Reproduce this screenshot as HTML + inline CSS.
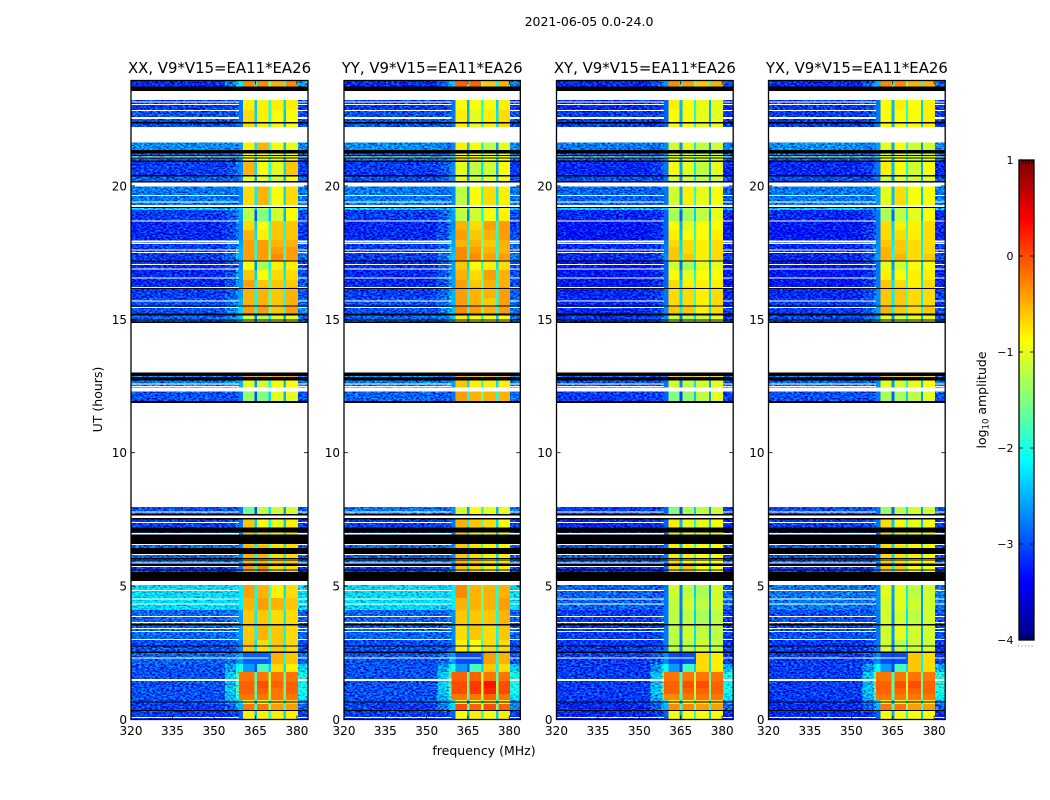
<!DOCTYPE html>
<html lang="en">
<head>
<meta charset="utf-8">
<title>2021-06-05 amplitude waterfall</title>
<style>
html,body{margin:0;padding:0;background:#fff;}
svg{display:block;}
text{font-family:"DejaVu Sans","Liberation Sans",sans-serif;fill:#000;}
</style>
</head>
<body>
<svg id="chart" xmlns="http://www.w3.org/2000/svg" width="1050" height="800" viewBox="0 0 1050 800">
<defs>
<filter id="speckle" filterUnits="objectBoundingBox" x="0" y="0" width="1" height="1" color-interpolation-filters="sRGB">
<feTurbulence type="fractalNoise" baseFrequency="0.36 0.62" numOctaves="2" seed="7" result="n"/>
<feColorMatrix in="n" type="matrix" values="0 0 0 0 0.5  1.5 0 0 0 -0.25  1.3 0 0 0 -0.15  0 0 0 0 1" result="m"/>
<feComposite in="SourceGraphic" in2="m" operator="arithmetic" k1="0" k2="1" k3="1" k4="-0.5" result="c"/>
<feComposite in="c" in2="SourceAlpha" operator="in"/>
</filter>
</defs>
<rect x="0" y="0" width="1050" height="800" fill="#fff"/>
<text x="589" y="26" font-size="12.5" text-anchor="middle">2021-06-05 0.0-24.0</text>
<text x="484" y="755" font-size="12.5" text-anchor="middle">frequency (MHz)</text>
<text x="0" y="0" font-size="12.5" text-anchor="middle" transform="translate(102,399.5) rotate(-90)">UT (hours)</text>
<text x="0" y="0" font-size="12.5" text-anchor="middle" transform="translate(986,400) rotate(-90)">log<tspan font-size="8.5" dy="2.5">10</tspan><tspan dy="-2.5"> amplitude</tspan></text>
<g id="panels"></g>
<g id="colorbar"></g>
</svg>
<script>
const panelNames = ["XX", "YY", "XY", "YX"];
const xTicks = [320, 335, 350, 365, 380];
const yTicks = [0, 5, 10, 15, 20];
const colorbarTicks = [1, 0, -1, -2, -3, -4];
const freqEdges = [320, 354, 358, 359, 360.5, 364.6, 365.6, 369.8, 370.6, 375.2, 376, 380.3, 384];

const hourBands = [
[23.93,23.71],[23.71,22.84],[22.84,22.20],[21.62,21.35],[21.35,21.11],[21.11,21.07],[21.07,20.90],[20.90,20.41],
[20.41,19.97],[19.97,19.17],[19.17,19.09],[19.09,18.68],[18.68,18.35],[18.35,17.97],[17.97,17.71],[17.71,17.45],
[17.45,17.19],[17.19,16.85],[16.85,16.47],[16.47,16.21],[16.21,15.80],[15.80,15.50],[15.50,15.22],[15.22,14.87],
[13.01,12.84],[12.84,12.29],[12.29,11.87],[7.96,7.59],[7.59,7.21],[7.21,6.54],[6.54,5.98],[5.98,5.75],[5.75,5.19],
[5.04,4.55],[4.55,4.10],[4.10,3.54],[3.54,2.98],[2.98,2.53],[2.53,2.08],[2.08,1.78],[1.78,1.45],[1.45,1.18],
[1.18,0.96],[0.96,0.73],[0.73,0.58],[0.58,0.32],[0.32,0]
];

/* log10 amplitude x 10: background, shoulder, band 1, band 2, band 3, band 4 */
const levelsXX = [
[-32,-22,-3,-3,-5,-3],[-31,-28,-8,-8,-8,-8],[-30,-28,-7,-8,-9,-9],[-27,-26,-8,-5,-9,-10],[-29,-27,-9,-9,-10,-10],
[-8,-10,-7,-7,-8,-8],[-29,-26,-9,-9,-10,-10],[-31,-27,-5,-9,-10,-6],[-29,-27,-10,-10,-11,-9],[-28,-27,-7,-5,-9,-7],
[-24,-24,-12,-12,-11,-9],[-31,-26,-12,-15,-11,-9],[-32,-27,-7,-9,-6,-6],[-32,-27,-5,-8,-6,-6],[-31,-26,-4,-4,-5,-5],
[-31,-25,-4,-4,-4,-4],[-31,-25,-4,-4,-3,-4],[-32,-27,-9,-13,-8,-8],[-32,-26,-6,-9,-7,-7],[-32,-26,-4,-6,-6,-6],
[-31,-26,-5,-5,-6,-5],[-30,-25,-5,-5,-6,-5],[-30,-23,-4,-4,-6,-4],[-29,-24,-11,-12,-10,-10],[-27,-27,-4,-4,-4,-4],
[-28,-25,-10,-11,-9,-9],[-30,-28,-14,-15,-10,-10],[-30,-28,-16,-12,-11,-11],[-31,-28,-6,-9,-10,-8],[-30,-27,-6,-7,-8,-7],
[-29,-27,-5,-5,-7,-7],[-28,-26,-5,-5,-6,-6],[-31,-28,-4,-3,-7,-7],[-23,-22,-4,-5,-8,-7],[-23,-22,-5,-4,-5,-6],
[-29,-26,-6,-6,-7,-7],[-29,-26,-6,-5,-6,-7],[-30,-27,-6,-7,-6,-7],[-29,-26,-29,-29,-5,-6],[-30,-20,-26,-18,-7,-8],
[-30,-16,-2,-2,-2,-2],[-30,-17,-1,0,-1,-1],[-30,-16,-1,-1,-2,-1],[-30,-18,-2,-2,-2,-2],[-30,-22,-8,-9,-7,-7],
[-31,-25,-2,-2,-4,-4],[-31,-29,-8,-8,-8,-8]
];
const levelsYY = [
[-32,-24,-1,-1,-6,-5],[-31,-28,-9,-9,-9,-8],[-30,-28,-8,-10,-8,-7],[-27,-27,-8,-9,-12,-10],[-29,-27,-10,-10,-11,-10],
[-9,-10,-8,-8,-9,-9],[-28,-26,-6,-7,-9,-9],[-31,-27,-10,-12,-11,-9],[-30,-27,-10,-11,-10,-9],[-28,-27,-12,-9,-7,-8],
[-24,-24,-11,-11,-10,-9],[-31,-26,-12,-11,-9,-8],[-32,-27,-5,-7,-4,-4],[-32,-26,-4,-6,-5,-4],[-31,-26,-5,-5,-6,-5],
[-31,-25,-3,-4,-5,-5],[-31,-24,-3,-3,-4,-4],[-32,-26,-6,-9,-8,-7],[-32,-26,-5,-7,-4,-5],[-32,-26,-4,-6,-5,-5],
[-31,-25,-4,-5,-5,-4],[-30,-25,-4,-5,-6,-4],[-30,-24,-3,-4,-5,-4],[-29,-24,-8,-9,-9,-9],[-26,-27,-4,-5,-5,-5],
[-28,-26,-6,-8,-8,-8],[-29,-28,-4,-5,-5,-5],[-28,-27,-11,-9,-10,-10],[-31,-28,-5,-6,-7,-9],[-30,-27,-6,-8,-8,-9],
[-29,-27,-6,-7,-8,-8],[-28,-26,-5,-6,-7,-7],[-31,-28,-6,-7,-8,-8],[-23,-22,-3,-5,-5,-5],[-23,-22,-5,-5,-5,-4],
[-29,-27,-6,-6,-6,-5],[-29,-27,-7,-6,-7,-6],[-30,-28,-8,-9,-7,-7],[-30,-26,-30,-30,-4,-5],[-30,-20,-26,-18,-6,-7],
[-30,-16,-1,-1,-2,-2],[-30,-16,0,1,3,0],[-30,-16,0,1,2,0],[-30,-18,-2,-2,-1,-2],[-30,-22,-10,-10,-7,-8],
[-31,-23,0,-1,0,-1],[-31,-29,-9,-8,-9,-8]
];
const levelsXY = [
[-32,-26,-3,-4,-6,-5],[-32,-29,-8,-9,-10,-10],[-31,-29,-9,-9,-10,-10],[-28,-27,-11,-10,-12,-11],[-29,-27,-11,-11,-12,-12],
[-10,-12,-9,-9,-10,-10],[-29,-27,-10,-10,-11,-11],[-32,-28,-9,-10,-12,-10],[-30,-28,-11,-11,-12,-11],[-29,-28,-11,-8,-10,-9],
[-24,-25,-12,-12,-12,-10],[-32,-29,-13,-13,-12,-10],[-33,-29,-9,-10,-9,-9],[-33,-29,-8,-9,-9,-8],[-32,-28,-7,-7,-8,-7],
[-32,-28,-6,-7,-8,-7],[-32,-27,-6,-6,-8,-7],[-33,-29,-11,-13,-10,-10],[-33,-29,-9,-10,-9,-9],[-33,-29,-7,-8,-8,-8],
[-32,-28,-7,-7,-8,-7],[-32,-28,-7,-7,-8,-7],[-32,-27,-6,-6,-8,-7],[-31,-27,-11,-12,-11,-10],[-28,-28,-6,-6,-7,-7],
[-30,-28,-11,-12,-11,-10],[-31,-29,-15,-14,-12,-10],[-31,-29,-15,-13,-12,-11],[-32,-29,-8,-10,-10,-9],[-31,-28,-8,-9,-10,-9],
[-30,-28,-8,-8,-9,-9],[-29,-27,-7,-8,-9,-9],[-32,-29,-7,-6,-9,-9],[-29,-28,-11,-12,-13,-11],[-29,-28,-12,-11,-12,-11],
[-31,-28,-12,-12,-13,-12],[-31,-28,-12,-11,-12,-12],[-31,-28,-12,-12,-11,-12],[-31,-27,-30,-30,-7,-8],[-31,-21,-26,-18,-7,-8],
[-31,-16,-2,-2,-2,-2],[-31,-17,-1,0,0,-1],[-31,-16,-1,-1,-1,-1],[-31,-18,-3,-2,-2,-2],[-31,-23,-8,-9,-7,-7],
[-32,-25,-3,-3,-4,-4],[-32,-29,-9,-9,-9,-9]
];
const levelsYX = [
[-32,-25,-3,-3,-5,-5],[-31,-28,-9,-8,-9,-8],[-31,-28,-9,-9,-9,-8],[-27,-26,-10,-9,-11,-11],[-28,-27,-11,-10,-12,-11],
[-9,-11,-8,-8,-10,-9],[-29,-27,-9,-9,-11,-10],[-32,-28,-8,-9,-11,-9],[-30,-28,-11,-10,-11,-10],[-28,-26,-10,-7,-9,-9],
[-24,-25,-12,-12,-10,-10],[-32,-28,-13,-12,-10,-9],[-33,-28,-7,-8,-8,-7],[-33,-28,-7,-7,-8,-7],[-32,-27,-6,-6,-7,-7],
[-32,-27,-5,-6,-7,-7],[-32,-26,-5,-5,-7,-6],[-33,-28,-10,-11,-9,-9],[-33,-28,-8,-9,-8,-8],[-33,-28,-6,-7,-8,-7],
[-32,-27,-6,-6,-7,-7],[-31,-27,-6,-6,-7,-7],[-31,-26,-5,-6,-7,-6],[-30,-26,-10,-11,-10,-10],[-27,-28,-5,-6,-6,-7],
[-29,-27,-10,-11,-10,-9],[-30,-28,-13,-13,-12,-10],[-30,-28,-14,-12,-11,-11],[-31,-28,-7,-9,-10,-9],[-31,-28,-7,-8,-9,-9],
[-30,-28,-7,-7,-8,-9],[-29,-27,-6,-7,-8,-8],[-31,-28,-6,-6,-9,-9],[-28,-27,-10,-10,-12,-11],[-28,-27,-11,-10,-11,-11],
[-30,-28,-11,-11,-12,-11],[-30,-28,-11,-10,-11,-11],[-31,-28,-11,-12,-11,-11],[-31,-27,-30,-30,-6,-7],[-31,-21,-26,-18,-6,-7],
[-31,-16,-2,-2,-2,-2],[-31,-16,-1,0,0,-1],[-31,-16,-1,-1,-1,-1],[-31,-18,-2,-2,-2,-2],[-31,-23,-8,-9,-7,-8],
[-32,-25,-2,-2,-4,-4],[-32,-29,-9,-9,-9,-9]
];

/* flagged time ranges, hours */
const fullWhiteBands = [[23.56,23.22],[22.20,21.62],[20.12,19.97],[19.28,19.20],[12.44,12.29],[7.64,7.56],[5.19,5.04]];
const lineWhiteBands = [[23.16,23.12],[23.07,23.03],[22.84,22.80],[22.59,22.51],[19.66,19.62],[19.41,19.37],[18.70,18.66],[17.95,17.90],[17.87,17.83],[17.62,17.59],[17.53,17.48],[17.07,17.03],[16.91,16.87],[16.57,16.53],[16.21,16.17],[15.71,15.67],[15.46,15.42],[12.59,12.55],[12.50,12.46],[7.79,7.75],[7.41,7.38],[6.99,6.94],[6.58,6.54],[6.20,6.17],[5.89,5.85],[5.76,5.73],[4.85,4.82],[4.54,4.50],[4.35,4.32],[3.88,3.84],[3.65,3.62],[3.43,3.39],[3.32,3.28],[3.02,2.98],[1.51,1.44],[0.09,0.06]];
const midWhiteBands = [[2.32,2.28]];
const blackBands = [[23.72,23.56],[22.40,22.33],[21.35,21.22],[21.15,21.12],[21.07,21.02],[20.95,20.90],[20.41,20.36],[20.18,20.12],[19.20,19.17],[17.21,17.17],[16.17,16.13],[15.52,15.48],[15.22,15.15],[15.00,14.95],[14.91,14.87],[13.01,12.88],[12.84,12.70],[11.94,11.87],[7.70,7.64],[7.56,7.50],[7.20,7.00],[6.94,6.58],[6.43,6.20],[6.06,6.03],[6.00,5.97],[5.85,5.76],[5.63,5.58],[5.53,5.19],[3.58,3.53],[2.77,2.73],[2.54,2.49],[0.67,0.63],[0.36,0.32]];

const allLevels = [levelsXX, levelsYY, levelsXY, levelsYX];
const SVGNS = "http://www.w3.org/2000/svg";
const panelLeft = [131, 344, 556.5, 768.5];
const panelSpan = [177, 176.3, 176.7, 176.7];
const plotTop = 80.5, plotBottom = 719.5, pxPerHour = 26.68;
const fMin = 320, fMax = 384;
const cbLeft = 1019, cbRight = 1034, cbTop = 160, cbBottom = 640, cbMin = -4, cbMax = 1;

function yScale(h) { return Math.max(plotTop, plotBottom - h * pxPerHour); }
function clamp(v) { return Math.max(0, Math.min(1, v)); }
function jet(level) {
  const n = clamp((level - cbMin) / (cbMax - cbMin));
  const r = Math.round(255 * clamp(1.5 - Math.abs(4 * n - 3)));
  const g = Math.round(255 * clamp(1.5 - Math.abs(4 * n - 2)));
  const b = Math.round(255 * clamp(1.5 - Math.abs(4 * n - 1)));
  return "rgb(" + r + "," + g + "," + b + ")";
}
function make(parent, tag, attrs, txt) {
  const el = document.createElementNS(SVGNS, tag);
  for (const k in attrs) el.setAttribute(k, attrs[k]);
  if (txt !== undefined) el.textContent = txt;
  parent.appendChild(el);
  return el;
}
function columnLevels(row) {
  const bg = row[0], sh = row[1], p1 = row[2], p2 = row[3], p3 = row[4], p4 = row[5];
  const inBlock = sh >= -19 && bg < -25;
  const leadIn = inBlock ? p1 : sh;
  const edge = Math.max(bg, sh - 4);
  return [bg, (bg + sh) / 2 - 1, sh - 1, leadIn, p1, Math.max(bg, (p1 + p2) / 2 - 16), p2,
    Math.max(bg, (p2 + p3) / 2 - 11), p3, Math.max(bg, (p3 + p4) / 2 - 15), p4, edge];
}

const root = document.getElementById("panels");
panelNames.forEach(function (name, pi) {
  const left = panelLeft[pi];
  const panelWidth = panelSpan[pi];
  const xScale = function (f) { return left + (f - fMin) / (fMax - fMin) * panelWidth; };
  const lname = name.toLowerCase();
  const g = make(root, "g", {});
  
  

  const bgGroup = make(g, "g", { filter: "url(#speckle)", "shape-rendering": "crispEdges" });
  
  
  const brightGroup = make(g, "g", { "shape-rendering": "crispEdges" });
  
  

  hourBands.forEach(function (band, ri) {
    const cols = columnLevels(allLevels[pi][ri]);
    cols.forEach(function (tenths, ci) {
      const host = (ci <= 2 || ci === 11) ? bgGroup : brightGroup;
      const y0 = yScale(band[0]), y1 = yScale(band[1]);
      const x0 = xScale(freqEdges[ci]), x1 = xScale(freqEdges[ci + 1]);
      const cell = make(host, "rect", { x: x0, y: y0, width: x1 - x0, height: y1 - y0, fill: jet(tenths / 10) });
      
      
    });
  });

  const masks = make(g, "g", { "shape-rendering": "crispEdges" });
  
  
  function band(hTop, hBot, fFrom, fTo, color) {
    const r = make(masks, "rect", { x: xScale(fFrom), y: yScale(hTop), width: xScale(fTo) - xScale(fFrom), height: Math.max(1, yScale(hBot) - yScale(hTop)), fill: color });
    
    
  }
  fullWhiteBands.forEach(function (b) { band(b[0], b[1], fMin, fMax, "#fff"); });
  lineWhiteBands.forEach(function (b) { band(b[0], b[1], fMin, 359, "#fff"); band(b[0], b[1], 380.3, fMax, "#fff"); });
  midWhiteBands.forEach(function (b) { band(b[0], b[1], fMin, 369.8, "#fff"); band(b[0], b[1], 380.3, fMax, "#fff"); });
  blackBands.forEach(function (b) { band(b[0], b[1], fMin, fMax, "#000"); });

  const frame = make(g, "rect", { x: left, y: plotTop, width: panelWidth, height: plotBottom - plotTop, fill: "none", stroke: "#000", "stroke-width": 1.3 });
  
  

  xTicks.forEach(function (t) {
    const x = xScale(t);
    const a = make(g, "line", { x1: x, x2: x, y1: plotBottom, y2: plotBottom - 4, stroke: "#000", "stroke-width": 0.8 });
    
    
    const b = make(g, "line", { x1: x, x2: x, y1: plotTop, y2: plotTop + 4, stroke: "#000", "stroke-width": 0.8 });
    
    
    const l = make(g, "text", { x: x, y: 735, "font-size": 12, "text-anchor": "middle" }, String(t));
    
    
  });
  yTicks.forEach(function (t) {
    const y = yScale(t);
    const a = make(g, "line", { x1: left, x2: left + 4, y1: y, y2: y, stroke: "#000", "stroke-width": 0.8 });
    
    
    const b = make(g, "line", { x1: left + panelWidth, x2: left + panelWidth - 4, y1: y, y2: y, stroke: "#000", "stroke-width": 0.8 });
    
    
    const l = make(g, "text", { x: left - 4, y: y + 4.5, "font-size": 12, "text-anchor": "end" }, String(t));
    
    
  });
  const title = make(g, "text", { x: left + panelWidth / 2, y: 73, "font-size": 14.9, "text-anchor": "middle" }, name + ", V9*V15=EA11*EA26");
  
  
});

const cb = document.getElementById("colorbar");
function cbY(v) { return cbBottom - (v - cbMin) / (cbMax - cbMin) * (cbBottom - cbTop); }
const cbStrip = make(cb, "g", { "shape-rendering": "crispEdges" });


for (let i = 0; i < 240; i++) {
  const lo = cbMin + (cbMax - cbMin) * i / 240, hi = cbMin + (cbMax - cbMin) * (i + 1) / 240;
  const s = make(cbStrip, "rect", { x: cbLeft, y: cbY(hi), width: cbRight - cbLeft, height: cbY(lo) - cbY(hi) + 0.5, fill: jet((lo + hi) / 2) });
  
  
}
const cbFrame = make(cb, "rect", { x: cbLeft, y: cbTop, width: cbRight - cbLeft, height: cbBottom - cbTop, fill: "none", stroke: "#000", "stroke-width": 1.3 });


colorbarTicks.forEach(function (t) {
  const y = cbY(t);
  const a = make(cb, "line", { x1: cbLeft, x2: cbLeft + 4, y1: y, y2: y, stroke: "#000", "stroke-width": 0.8 });
  
  
  const b = make(cb, "line", { x1: cbRight, x2: cbRight - 4, y1: y, y2: y, stroke: "#000", "stroke-width": 0.8 });
  
  
  const l = make(cb, "text", { x: 1013.5, y: y + 4, "font-size": 11, "text-anchor": "end" }, String(t).replace("-", "\u2212"));
  
  
});
[1023, 1026, 1029, 1032].forEach(function (x) {
  const a = make(cb, "line", { x1: x, x2: x, y1: cbTop, y2: cbTop + 4, stroke: "#000", "stroke-width": 0.8 });
  
  
  const b = make(cb, "line", { x1: x, x2: x, y1: cbBottom, y2: cbBottom - 4, stroke: "#000", "stroke-width": 0.8 });
  
  
});
const cbDots = make(cb, "line", { x1: 1018, x2: 1035, y1: 646, y2: 646, stroke: "#777", "stroke-width": 1, "stroke-dasharray": "1 2.4" });


</script>
</body>
</html>
